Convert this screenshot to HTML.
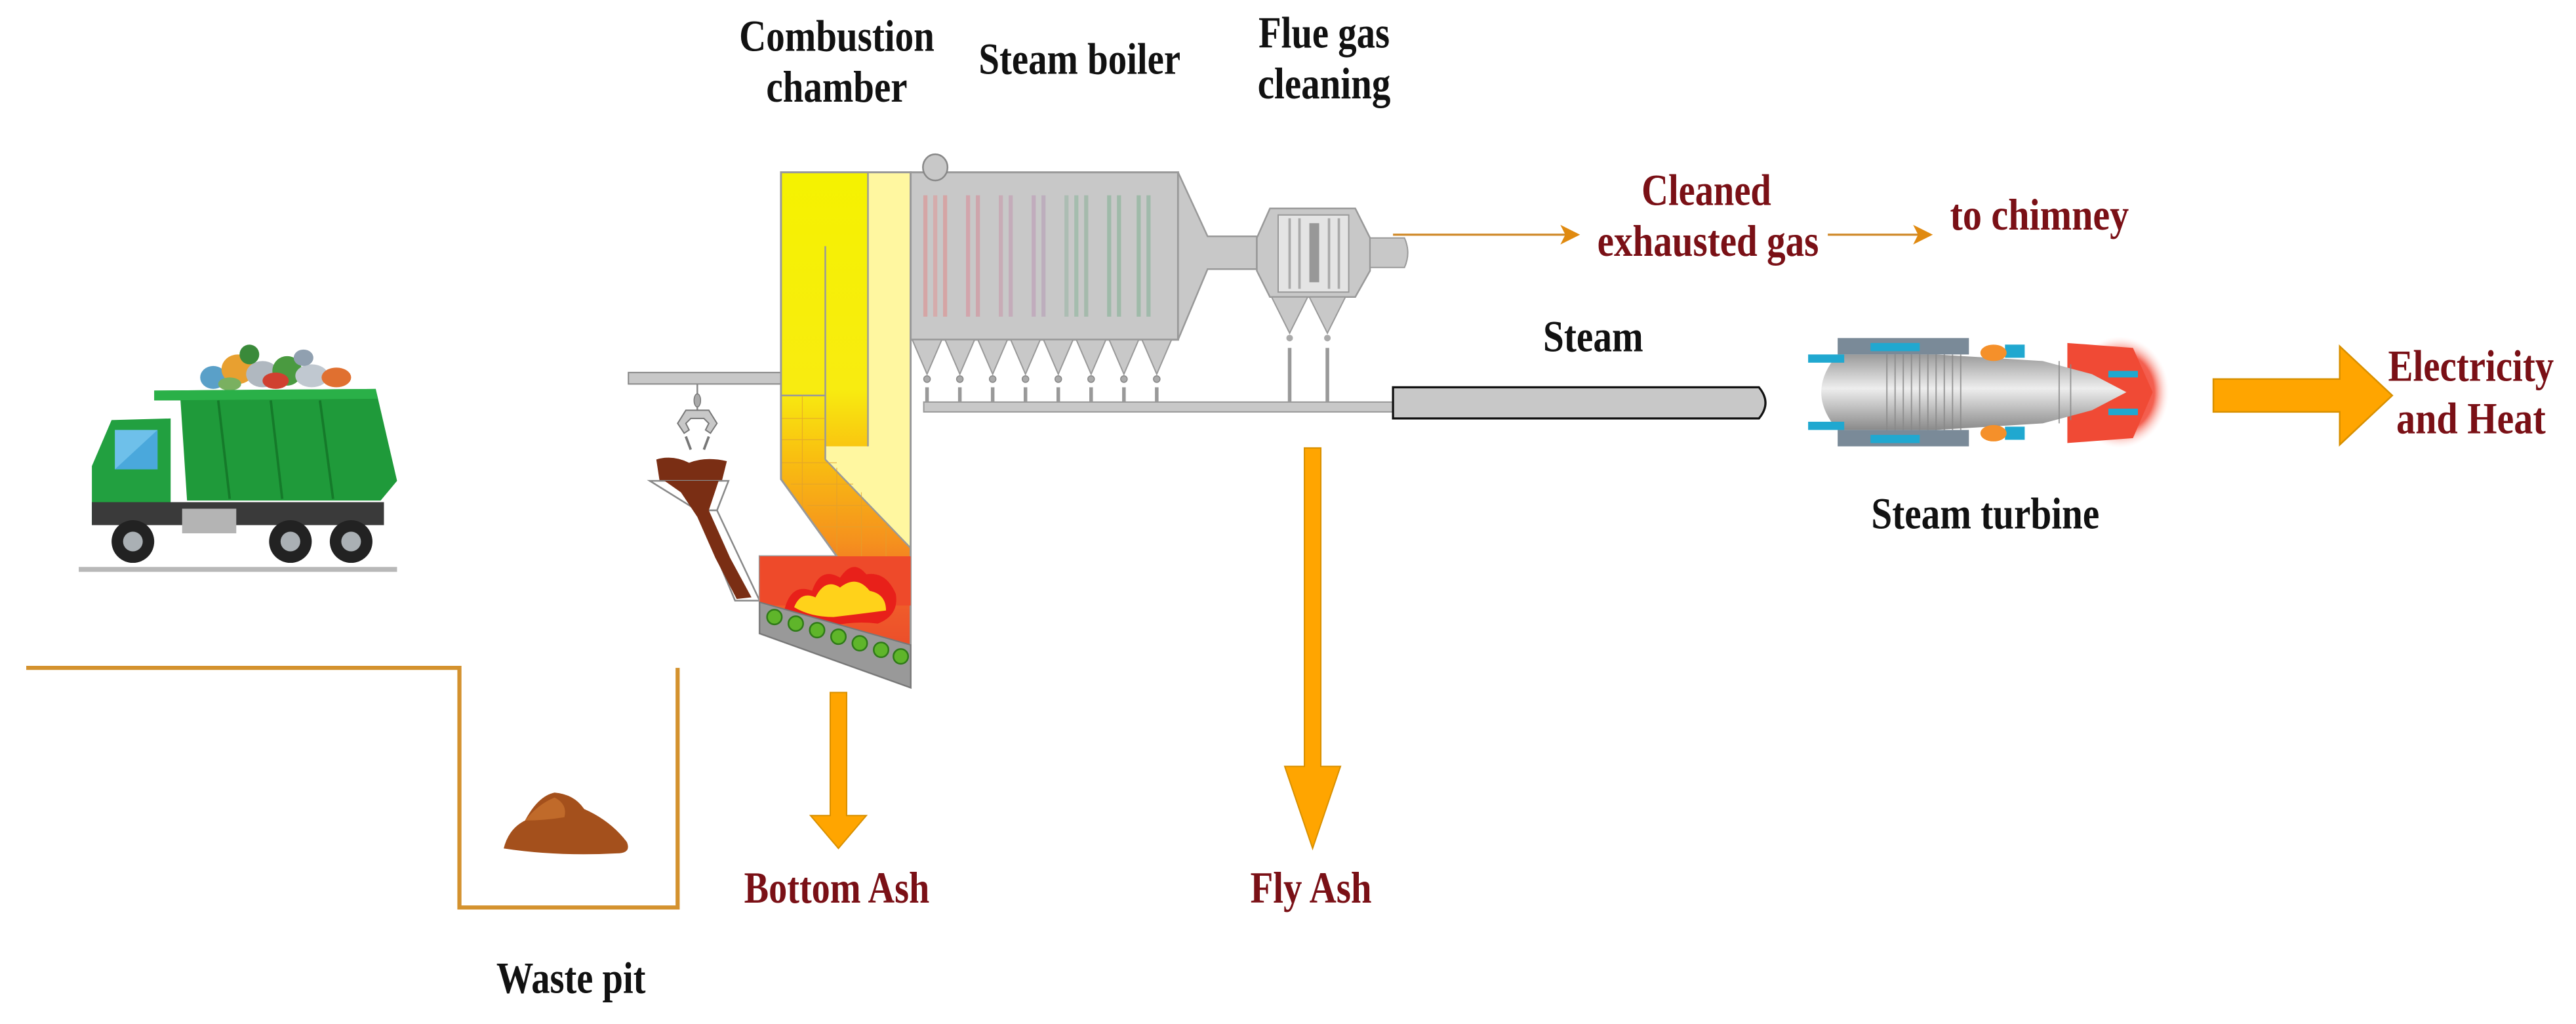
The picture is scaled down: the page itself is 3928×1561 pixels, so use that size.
<!DOCTYPE html>
<html><head><meta charset="utf-8"><style>
html,body{margin:0;padding:0;background:#fff;}
svg{display:block;}
text{font-family:"Liberation Serif",serif;font-weight:bold;}
</style></head><body>
<svg width="3928" height="1561" viewBox="0 0 1570 624" preserveAspectRatio="none" xmlns="http://www.w3.org/2000/svg">
<defs>
<linearGradient id="fire" x1="0" y1="105" x2="0" y2="419" gradientUnits="userSpaceOnUse">
<stop offset="0" stop-color="#f5f200"/><stop offset="0.42" stop-color="#f8ec10"/>
<stop offset="0.55" stop-color="#f9c010"/><stop offset="0.72" stop-color="#f5901e"/>
<stop offset="0.85" stop-color="#ef5a2a"/><stop offset="1" stop-color="#e8402a"/>
</linearGradient>
<linearGradient id="body" x1="0" y1="0" x2="0" y2="1">
<stop offset="0" stop-color="#9a9a9a"/><stop offset="0.45" stop-color="#eeeeee"/><stop offset="1" stop-color="#8a8a8a"/>
</linearGradient>
<radialGradient id="glow" cx="0.5" cy="0.5" r="0.5">
<stop offset="0" stop-color="#f04030"/><stop offset="0.7" stop-color="#f46050"/><stop offset="1" stop-color="#ffe0dc" stop-opacity="0"/>
</radialGradient>
</defs>

<!-- Labels top -->
<text x="510" y="31" font-size="27" text-anchor="middle" textLength="119" lengthAdjust="spacingAndGlyphs" fill="#111">Combustion</text>
<text x="510" y="62" font-size="27" text-anchor="middle" textLength="86" lengthAdjust="spacingAndGlyphs" fill="#111">chamber</text>
<text x="658" y="45" font-size="27" text-anchor="middle" textLength="123" lengthAdjust="spacingAndGlyphs" fill="#111">Steam boiler</text>
<text x="807" y="29" font-size="27" text-anchor="middle" textLength="80" lengthAdjust="spacingAndGlyphs" fill="#111">Flue gas</text>
<text x="807" y="60" font-size="27" text-anchor="middle" textLength="81" lengthAdjust="spacingAndGlyphs" fill="#111">cleaning</text>

<!-- Crane rail -->
<rect x="383" y="227" width="93" height="7" fill="#c8c8c8" stroke="#888" stroke-width="0.8"/>
<line x1="425" y1="234" x2="425" y2="250" stroke="#888" stroke-width="1"/>
<ellipse cx="425" cy="244" rx="2" ry="4" fill="#aaa" stroke="#777" stroke-width="0.6"/>
<path d="M417 264 L413 258 L418 250 L432 250 L437 258 L433 264 L430 262 L432 258 L429 255 L421 255 L418 258 L420 262 Z" fill="#c8c8c8" stroke="#777" stroke-width="0.8"/>
<path d="M418 266 L421 274 M432 266 L429 274" stroke="#777" stroke-width="1.5"/>

<!-- hopper -->
<path d="M400 280 Q410 277 420 282 Q430 278 443 281 L440 293 L402 293 Z" fill="#7a2e14"/>
<polygon points="396,293 444,293 437,311 425,311" fill="#fff" stroke="#888" stroke-width="1"/>
<polygon points="425,311 437,311 463,366 448,366" fill="#fff" stroke="#888" stroke-width="1"/>
<path d="M405 293 L438 293 L432 311 L445 340 L458 364 L449 365 L436 340 L425 315 L415 300 Z" fill="#7a2e14"/>

<!-- combustion chamber -->
<polygon points="476,105 555,105 555,419 463,386 463,339 510,339 476,292" fill="url(#fire)"/>
<polygon points="529,105 555,105 555,334 503,280 503,272 529,272" fill="#fff7a0"/>
<line x1="503" y1="150" x2="503" y2="280" stroke="#999" stroke-width="1"/>
<line x1="503" y1="280" x2="555" y2="334" stroke="#999" stroke-width="1"/>
<line x1="529" y1="105" x2="529" y2="272" stroke="#999" stroke-width="1"/>
<line x1="476" y1="241" x2="503" y2="241" stroke="#999" stroke-width="1"/>
<g stroke="#e0a030" stroke-width="0.5" opacity="0.7">
<line x1="476" y1="255" x2="503" y2="255"/><line x1="476" y1="268" x2="503" y2="268"/><line x1="476" y1="282" x2="510" y2="282"/>
<line x1="482" y1="295" x2="520" y2="295"/><line x1="492" y1="308" x2="530" y2="308"/><line x1="500" y1="321" x2="542" y2="321"/>
<line x1="489" y1="241" x2="489" y2="310"/><line x1="510" y1="285" x2="510" y2="339"/><line x1="525" y1="300" x2="525" y2="339"/><line x1="540" y1="318" x2="540" y2="339"/>
</g>
<polygon points="476,105 555,105 555,419 463,386 463,339 510,339 476,292" fill="none" stroke="#999" stroke-width="1.2"/>
<!-- red box & flames -->
<rect x="463" y="339" width="92" height="30" fill="#ee4a2a"/>
<path d="M478 372 Q482 355 495 360 Q500 345 512 352 Q520 340 528 350 Q540 348 546 362 Q548 375 535 380 Q520 378 505 382 Q490 380 478 372Z" fill="#e8201a"/>
<path d="M484 370 Q488 360 497 364 Q503 352 512 358 Q522 350 530 360 Q540 362 540 372 Q525 374 508 376 Q494 376 484 370Z" fill="#ffd21a"/>
<polygon points="463,367 555,393 555,419 463,386" fill="#999" stroke="#777" stroke-width="0.8"/>
<g fill="#5fb52a" stroke="#2f7a18" stroke-width="1">
<circle cx="472" cy="376" r="4.5"/><circle cx="485" cy="380" r="4.5"/><circle cx="498" cy="384" r="4.5"/><circle cx="511" cy="388" r="4.5"/><circle cx="524" cy="392" r="4.5"/><circle cx="537" cy="396" r="4.5"/><circle cx="549" cy="400" r="4.5"/>
</g>

<!-- boiler -->
<rect x="555" y="105" width="163" height="102" fill="#c8c8c8" stroke="#999" stroke-width="1.2"/>
<ellipse cx="570" cy="102" rx="7.5" ry="8" fill="#c8c8c8" stroke="#888" stroke-width="1"/>
<g stroke-width="2.5" opacity="0.85">
<line x1="564" y1="119" x2="564" y2="193" stroke="#d8a0a0"/><line x1="570" y1="119" x2="570" y2="193" stroke="#d8a8a8"/><line x1="576" y1="119" x2="576" y2="193" stroke="#d8a0a0"/>
<line x1="590" y1="119" x2="590" y2="193" stroke="#d4a0a8"/><line x1="596" y1="119" x2="596" y2="193" stroke="#d0a0a8"/>
<line x1="610" y1="119" x2="610" y2="193" stroke="#c8a8b4"/><line x1="616" y1="119" x2="616" y2="193" stroke="#c4a8b8"/>
<line x1="630" y1="119" x2="630" y2="193" stroke="#c0a8bc"/><line x1="636" y1="119" x2="636" y2="193" stroke="#bcaabc"/>
<line x1="650" y1="119" x2="650" y2="193" stroke="#a8bcb0"/><line x1="656" y1="119" x2="656" y2="193" stroke="#a0bcaa"/><line x1="662" y1="119" x2="662" y2="193" stroke="#a0b8a8"/>
<line x1="676" y1="119" x2="676" y2="193" stroke="#98b8a4"/><line x1="682" y1="119" x2="682" y2="193" stroke="#98b8a4"/>
<line x1="694" y1="119" x2="694" y2="193" stroke="#98b8a4"/><line x1="700" y1="119" x2="700" y2="193" stroke="#9ab8a6"/>
</g>
<g fill="#c8c8c8" stroke="#999" stroke-width="0.8">
<polygon points="556,207 574,207 565,228"/><polygon points="576,207 594,207 585,228"/><polygon points="596,207 614,207 605,228"/><polygon points="616,207 634,207 625,228"/><polygon points="636,207 654,207 645,228"/><polygon points="656,207 674,207 665,228"/><polygon points="676,207 694,207 685,228"/><polygon points="696,207 714,207 705,228"/>
</g>
<g fill="#aaa" stroke="#888" stroke-width="0.6">
<circle cx="565" cy="231" r="2"/><circle cx="585" cy="231" r="2"/><circle cx="605" cy="231" r="2"/><circle cx="625" cy="231" r="2"/><circle cx="645" cy="231" r="2"/><circle cx="665" cy="231" r="2"/><circle cx="685" cy="231" r="2"/><circle cx="705" cy="231" r="2"/>
</g>
<g stroke="#999" stroke-width="2.2">
<line x1="565" y1="236" x2="565" y2="246"/><line x1="585" y1="236" x2="585" y2="246"/><line x1="605" y1="236" x2="605" y2="246"/><line x1="625" y1="236" x2="625" y2="246"/><line x1="645" y1="236" x2="645" y2="246"/><line x1="665" y1="236" x2="665" y2="246"/><line x1="685" y1="236" x2="685" y2="246"/><line x1="705" y1="236" x2="705" y2="246"/>
<line x1="786" y1="212" x2="786" y2="246"/><line x1="809" y1="212" x2="809" y2="246"/>
</g>
<rect x="563" y="245" width="286" height="6" fill="#c8c8c8" stroke="#999" stroke-width="0.8"/>

<!-- cone & duct -->
<polygon points="718,105 736,144 766,144 766,164 736,164 718,207" fill="#c8c8c8" stroke="#999" stroke-width="1"/>
<!-- flue unit -->
<polygon points="774,127 826,127 835,145 835,165 826,181 774,181 766,165 766,145" fill="#c8c8c8" stroke="#999" stroke-width="1"/>
<rect x="779" y="131" width="43" height="47" fill="#e4e4e4" stroke="#999" stroke-width="0.8"/>
<g stroke="#aaa" stroke-width="1.5"><line x1="786" y1="133" x2="786" y2="176"/><line x1="792" y1="133" x2="792" y2="176"/><line x1="810" y1="133" x2="810" y2="176"/><line x1="816" y1="133" x2="816" y2="176"/></g>
<rect x="798" y="136" width="6" height="36" fill="#777" opacity="0.7"/>
<polygon points="775,181 797,181 786,203" fill="#c8c8c8" stroke="#999" stroke-width="0.8"/>
<polygon points="798,181 820,181 809,203" fill="#c8c8c8" stroke="#999" stroke-width="0.8"/>
<circle cx="786" cy="206" r="2" fill="#aaa"/><circle cx="809" cy="206" r="2" fill="#aaa"/>
<path d="M835 145 L856 145 Q860 154 856 163 L835 163 Z" fill="#c8c8c8" stroke="#999" stroke-width="0.8"/>

<!-- thin arrows -->
<line x1="849" y1="143" x2="958" y2="143" stroke="#d08a2a" stroke-width="1.3"/>
<polygon points="951,137 963,143 951,149 954,143" fill="#e08a10"/>
<line x1="1114" y1="143" x2="1172" y2="143" stroke="#d08a2a" stroke-width="1.3"/>
<polygon points="1166,137 1178,143 1166,149 1169,143" fill="#e08a10"/>
<text x="1040" y="125" font-size="27" text-anchor="middle" textLength="79" lengthAdjust="spacingAndGlyphs" fill="#7a1016">Cleaned</text>
<text x="1041" y="156" font-size="27" text-anchor="middle" textLength="135" lengthAdjust="spacingAndGlyphs" fill="#7a1016">exhausted gas</text>
<text x="1243" y="140" font-size="27" text-anchor="middle" textLength="109" lengthAdjust="spacingAndGlyphs" fill="#7a1016">to chimney</text>

<!-- steam pipe -->
<text x="971" y="214" font-size="27" text-anchor="middle" textLength="61" lengthAdjust="spacingAndGlyphs" fill="#111">Steam</text>
<path d="M849 236 L1072 236 Q1080 245.5 1072 255 L849 255 Z" fill="#c8c8c8" stroke="#111" stroke-width="1.3"/>

<!-- turbine -->
<ellipse cx="1292" cy="239" rx="30" ry="34" fill="url(#glow)"/>
<path d="M1260 209 L1300 212 L1312 239 L1300 267 L1260 270 Z" fill="#f04a35"/>
<path d="M1120 216 L1180 216 L1245 220 L1275 228 L1296 239 L1275 250 L1245 258 L1180 262 L1120 262 Q1100 239 1120 216 Z" fill="url(#body)"/>
<g stroke="#888" stroke-width="0.8" opacity="0.8">
<line x1="1150" y1="214" x2="1150" y2="264"/><line x1="1155" y1="214" x2="1155" y2="264"/><line x1="1160" y1="214" x2="1160" y2="264"/><line x1="1165" y1="214" x2="1165" y2="264"/><line x1="1170" y1="214" x2="1170" y2="264"/><line x1="1175" y1="214" x2="1175" y2="264"/><line x1="1180" y1="215" x2="1180" y2="263"/><line x1="1185" y1="215" x2="1185" y2="263"/><line x1="1190" y1="216" x2="1190" y2="262"/><line x1="1195" y1="216" x2="1195" y2="262"/><line x1="1255" y1="220" x2="1255" y2="258"/><line x1="1262" y1="222" x2="1262" y2="256"/>
</g>
<rect x="1120" y="206" width="80" height="10" fill="#7a8a98"/>
<rect x="1120" y="262" width="80" height="10" fill="#7a8a98"/>
<g fill="#20a8d0">
<rect x="1102" y="216" width="22" height="5"/><rect x="1102" y="257" width="22" height="5"/>
<rect x="1140" y="209" width="30" height="5"/><rect x="1140" y="265" width="30" height="5"/>
<rect x="1222" y="210" width="12" height="8"/><rect x="1222" y="260" width="12" height="8"/>
<rect x="1285" y="226" width="18" height="4"/><rect x="1285" y="249" width="18" height="4"/>
</g>
<ellipse cx="1215" cy="215" rx="8" ry="5" fill="#f5902a"/><ellipse cx="1215" cy="264" rx="8" ry="5" fill="#f5902a"/>
<text x="1210" y="322" font-size="27" text-anchor="middle" textLength="139" lengthAdjust="spacingAndGlyphs" fill="#111">Steam turbine</text>

<!-- big arrow -->
<polygon points="1349,231 1426,231 1426,211 1458,241 1426,271 1426,251 1349,251" fill="#ffa500" stroke="#d89000" stroke-width="1"/>
<text x="1506" y="232" font-size="27" text-anchor="middle" textLength="101" lengthAdjust="spacingAndGlyphs" fill="#7a1016">Electricity</text>
<text x="1506" y="264" font-size="27" text-anchor="middle" textLength="91" lengthAdjust="spacingAndGlyphs" fill="#7a1016">and Heat</text>

<!-- ash arrows -->
<polygon points="506,422 516,422 516,497 528,497 511,517 494,497 506,497" fill="#ffa500" stroke="#d89000" stroke-width="0.8"/>
<polygon points="795,273 805,273 805,467 817,467 800,517 783,467 795,467" fill="#ffa500" stroke="#d89000" stroke-width="0.8"/>
<text x="510" y="550" font-size="27" text-anchor="middle" textLength="113" lengthAdjust="spacingAndGlyphs" fill="#7a1016">Bottom Ash</text>
<text x="799" y="550" font-size="27" text-anchor="middle" textLength="74" lengthAdjust="spacingAndGlyphs" fill="#7a1016">Fly Ash</text>

<!-- waste pit -->
<polyline points="16,407 280,407 280,553 413,553 413,407" fill="none" stroke="#d4922e" stroke-width="2.5"/>
<path d="M307 517 Q310 505 320 500 Q328 485 338 483 Q350 484 356 493 Q372 500 382 513 Q385 520 376 520 Q340 522 307 517Z" fill="#a4501c"/>
<path d="M320 500 Q328 490 338 486 Q346 490 344 498 Q332 500 320 500Z" fill="#c06a2a"/>
<text x="348" y="605" font-size="27" text-anchor="middle" textLength="91" lengthAdjust="spacingAndGlyphs" fill="#111">Waste pit</text>

<!-- truck -->
<line x1="48" y1="347" x2="242" y2="347" stroke="#b8b8b8" stroke-width="3"/>
<g>
<ellipse cx="130" cy="230" rx="8" ry="7" fill="#5aa0c8"/><ellipse cx="145" cy="225" rx="10" ry="9" fill="#e8a030"/>
<ellipse cx="160" cy="228" rx="10" ry="8" fill="#b0b8c0"/><ellipse cx="175" cy="226" rx="9" ry="9" fill="#4a9a40"/>
<ellipse cx="190" cy="229" rx="10" ry="7" fill="#c0c8d0"/><ellipse cx="205" cy="230" rx="9" ry="6" fill="#e07030"/>
<ellipse cx="152" cy="216" rx="6" ry="6" fill="#3a8a3a"/><ellipse cx="185" cy="218" rx="6" ry="5" fill="#90a0b0"/>
<ellipse cx="168" cy="232" rx="8" ry="5" fill="#d04030"/><ellipse cx="140" cy="234" rx="7" ry="4" fill="#7ab060"/>
</g>
<polygon points="94,238 229,237 242,293 232,305 114,305 110,244 94,244" fill="#1f9a3a"/>
<polygon points="94,238 229,237 230,243 94,244" fill="#2ab048"/>
<g stroke="#157a2a" stroke-width="1.5">
<line x1="133" y1="244" x2="140" y2="304"/><line x1="165" y1="244" x2="172" y2="304"/><line x1="195" y1="244" x2="203" y2="304"/>
</g>
<polygon points="56,284 68,256 104,255 104,308 56,320" fill="#22a040"/>
<polygon points="70,262 96,262 96,286 70,286 70,275" fill="#6ec0ea"/>
<polygon points="70,286 96,262 96,286" fill="#4aa8dc"/>
<rect x="56" y="306" width="178" height="14" fill="#3a3a3a"/>
<rect x="111" y="310" width="33" height="15" fill="#b4b4b4"/>
<g fill="#222"><circle cx="81" cy="330" r="13"/><circle cx="177" cy="330" r="13"/><circle cx="214" cy="330" r="13"/></g>
<g fill="#aab0b4"><circle cx="81" cy="330" r="6"/><circle cx="177" cy="330" r="6"/><circle cx="214" cy="330" r="6"/></g>
</svg>
</body></html>
